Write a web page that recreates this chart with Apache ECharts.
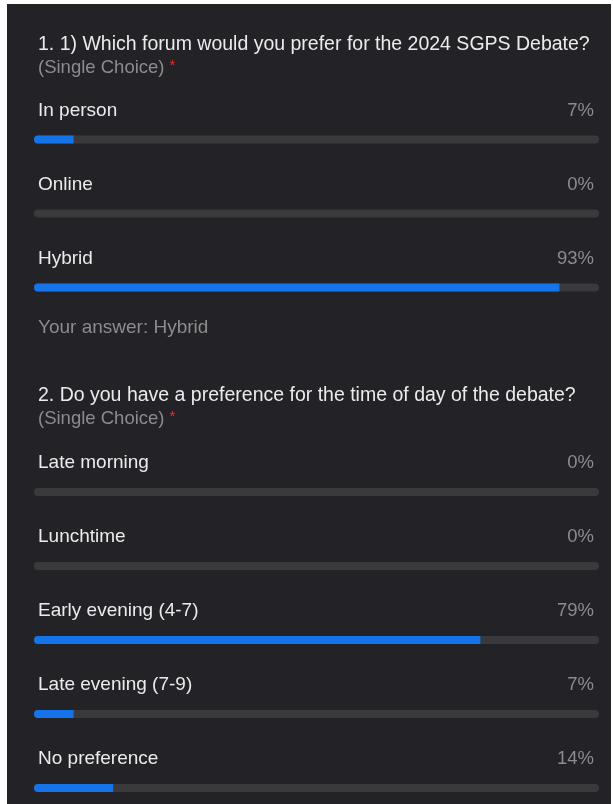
<!DOCTYPE html>
<html>
<head>
<meta charset="utf-8">
<script src="https://cdn.jsdelivr.net/npm/echarts@6/dist/echarts.min.js"></script>
<style>
  html, body { margin: 0; padding: 0; background: #ffffff; }
  #chart { width: 613px; height: 804px; }
</style>
</head>
<body>
<div id="chart"></div>
<script>
// question 1
const q1Title = '1. 1) Which forum would you prefer for the 2024 SGPS Debate?'
const q1Options = ['In person', 'Online', 'Hybrid']
const q1Values = [7, 0, 93]
const q1Answer = 'Your answer: Hybrid'

// question 2
const q2Title = '2. Do you have a preference for the time of day of the debate?'
const q2Options = ['Late morning', 'Lunchtime', 'Early evening (4-7)', 'Late evening (7-9)', 'No preference']
const q2Values = [0, 0, 79, 7, 14]

const choiceLabel = '(Single Choice)'

const FONT = '"Helvetica Neue", Helvetica, Arial, "Liberation Sans", sans-serif'
const BG = '#232226'
const TRACK = '#3a393c'
const BLUE = '#1574e8'
const TEXT = '#ebebec'
const GRAY = '#8c8c8f'

const chart = echarts.init(document.getElementById('chart'))

// 标题
function makeTitle(text, top) {
  return {
    text: text,
    subtext: choiceLabel + ' {r|*}',
    left: 38,
    top: top,
    padding: 0,
    itemGap: 3,
    textStyle: { color: TEXT, fontFamily: FONT, fontSize: 19.5, fontWeight: 'normal', lineHeight: 20 },
    subtextStyle: {
      color: GRAY, fontFamily: FONT, fontSize: 18.5, lineHeight: 20,
      rich: { r: { color: '#e5322b', fontSize: 15, fontFamily: FONT, verticalAlign: 'top', padding: [0, 0, 4, 0] } }
    }
  }
}

function makeSeries(idx, options, values) {
  return [
    {
      name: 'track' + idx,
      type: 'bar',
      xAxisIndex: idx,
      yAxisIndex: idx,
      data: options.map(() => 100),
      barWidth: 8,
      silent: true,
      itemStyle: { color: TRACK, borderRadius: 4 },
      label: {
        show: true,
        position: ['100%', -25],
        offset: [-5, 0],
        align: 'right',
        verticalAlign: 'middle',
        color: GRAY,
        fontFamily: FONT,
        fontSize: 18.5,
        formatter: p => values[p.dataIndex] + '%'
      },
      z: 1
    },
    {
      name: 'value' + idx,
      type: 'bar',
      xAxisIndex: idx,
      yAxisIndex: idx,
      data: values,
      barWidth: 8,
      barGap: '-100%',
      silent: true,
      itemStyle: { color: BLUE, borderRadius: [4, 0, 0, 4] },
      label: {
        show: true,
        position: [4, -25],
        align: 'left',
        verticalAlign: 'middle',
        color: TEXT,
        fontFamily: FONT,
        fontSize: 19,
        formatter: p => p.name
      },
      z: 2
    }
  ]
}

const axisX = idx => ({ type: 'value', gridIndex: idx, min: 0, max: 100, show: false })
// boundaryGap false: rows sit on the grid edges, 74px apart
const axisY = (idx, data) => ({ type: 'category', gridIndex: idx, data: data, inverse: true, boundaryGap: false, show: false })

const option = {
  backgroundColor: '#ffffff',
  animation: false,
  graphic: [
    { type: 'rect', z: -10, shape: { x: 7, y: 4, width: 604, height: 800 }, style: { fill: BG } }
  ],
  title: [
    makeTitle(q1Title, 35),
    makeTitle(q2Title, 386),
    {
      text: q1Answer,
      left: 38,
      top: 318,
      padding: 0,
      textStyle: { color: GRAY, fontFamily: FONT, fontSize: 19, fontWeight: 'normal', lineHeight: 20 }
    }
  ],
  grid: [
    { left: 34, right: 14, top: 139.5, height: 148 },
    { left: 34, right: 14, top: 492, height: 296 }
  ],
  xAxis: [axisX(0), axisX(1)],
  yAxis: [axisY(0, q1Options), axisY(1, q2Options)],
  series: [...makeSeries(0, q1Options, q1Values), ...makeSeries(1, q2Options, q2Values)]
}

chart.setOption(option)
</script>
</body>
</html>
